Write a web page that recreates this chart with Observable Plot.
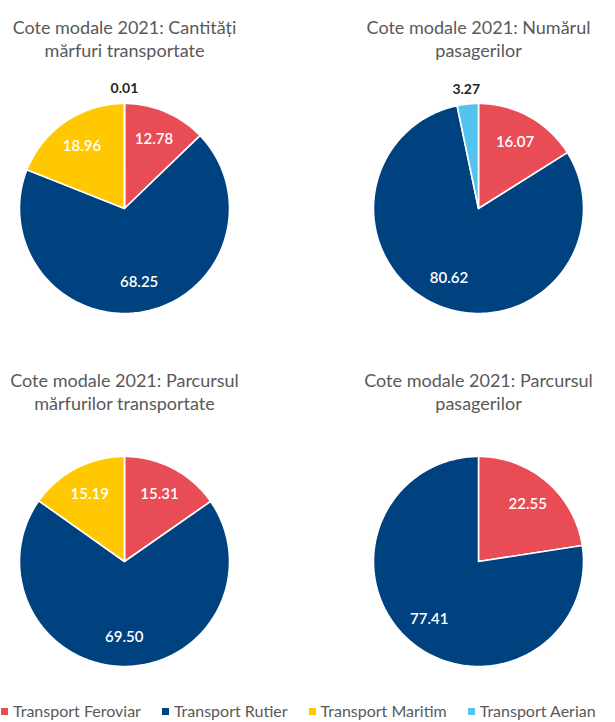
<!DOCTYPE html>
<html><head><meta charset="utf-8">
<script src="https://cdn.jsdelivr.net/npm/d3@7"></script>
<script src="https://cdn.jsdelivr.net/npm/@observablehq/plot@0.6"></script>
<style>
body{margin:0;background:#fff;}
#root{position:relative;width:615px;height:722px;overflow:hidden;font-family:Lato, sans-serif;}
.chart{position:absolute;width:300px;}
.chart svg{overflow:visible;max-width:none !important;}
#legend{position:absolute;left:1px;top:700px;width:700px;}
.lg-swatches{font-family:Lato, sans-serif;font-size:16px;line-height:18px;color:#595959;flex-wrap:nowrap !important;white-space:nowrap;min-height:22px !important;margin:0 !important;}
.lg-swatch{margin-right:21px !important;}
.lg-swatch > svg{margin-right:5px !important;}
</style></head><body><div id="root"><div id="legend"></div></div>
<script>
// ---- data ----
const categories = ["Transport Feroviar", "Transport Rutier", "Transport Maritim", "Transport Aerian"];
const colors = ["#E84C55", "#00427F", "#FFC800", "#55C3F0"];
const titles = [
  "Cote modale 2021: Cantități\nmărfuri transportate",
  "Cote modale 2021: Numărul\npasagerilor",
  "Cote modale 2021: Parcursul\nmărfurilor transportate",
  "Cote modale 2021: Parcursul\npasagerilor"
];
const marfuriCantitati = [12.78, 68.25, 18.96, 0.01];
const pasageriNumar = [16.07, 80.62, 0, 3.27];
const marfuriParcurs = [15.31, 69.50, 15.19, 0];
const pasageriParcurs = [22.55, 77.41, 0, 0];
const series = [marfuriCantitati, pasageriNumar, marfuriParcurs, pasageriParcurs];

// ---- layout ----
const R = 105;            // pie radius in px
const PW = 300, PH = 345; // each plot
const CY = 208;           // pie centre from plot top
const centersX = [124, 478];
const rowTop = [0, 353];

function slices(values) {
  const total = d3.sum(values);
  let a0 = 0;
  const pts = [], labels = [];
  values.forEach((v, i) => {
    if (!(v > 0)) return;
    const a1 = a0 + v / total * 2 * Math.PI;
    const cat = categories[i];
    const n = Math.max(2, Math.ceil((a1 - a0) / (Math.PI / 180)));
    pts.push({x: 0, y: 0, cat});
    for (let k = 0; k <= n; k++) {
      const a = a0 + (a1 - a0) * k / n;
      pts.push({x: Math.sin(a), y: Math.cos(a), cat});
    }
    pts.push({x: 0, y: 0, cat});
    const mid = (a0 + a1) / 2;
    const small = v / total < 0.05;
    const rr = small ? 1.14 : 0.72;
    labels.push({x: rr * Math.sin(mid), y: rr * Math.cos(mid), text: v.toFixed(2), small});
    a0 = a1;
  });
  return {pts, labels};
}

const root = document.getElementById("root");
series.forEach((values, idx) => {
  const {pts, labels} = slices(values);
  const col = idx % 2, row = Math.floor(idx / 2);
  const plot = Plot.plot({
    width: PW, height: PH,
    marginTop: 0, marginBottom: 0, marginLeft: 0, marginRight: 0,
    x: {domain: [-PW / 2 / R, PW / 2 / R], axis: null},
    y: {domain: [(CY - PH) / R, CY / R], axis: null},
    color: {domain: categories, range: colors},
    style: {fontFamily: "Lato, sans-serif", background: "transparent"},
    marks: [
      Plot.line(pts, {x: "x", y: "y", z: "cat", fill: "cat", stroke: "white", strokeWidth: 1.6, strokeLinejoin: "round"}),
      Plot.text(labels.filter(d => !d.small), {x: "x", y: "y", text: "text", fill: "white", fontSize: 15, fontWeight: 600}),
      Plot.text(labels.filter(d => d.small), {x: "x", y: "y", text: "text", fill: "#262626", fontSize: 14, fontWeight: 700}),
      Plot.text([titles[idx]], {frameAnchor: "top", lineAnchor: "top", dy: 17, text: d => d, fill: "#595959", fontSize: 18, lineHeight: 1.28})
    ]
  });
  const div = document.createElement("div");
  div.className = "chart";
  div.style.left = (centersX[col] - PW / 2) + "px";
  div.style.top = rowTop[row] + "px";
  div.appendChild(plot);
  root.appendChild(div);
});

const leg = Plot.legend({color: {domain: categories, range: colors}, legend: "swatches", swatchSize: 7, className: "lg"});
document.getElementById("legend").appendChild(leg);
</script>
</body></html>
